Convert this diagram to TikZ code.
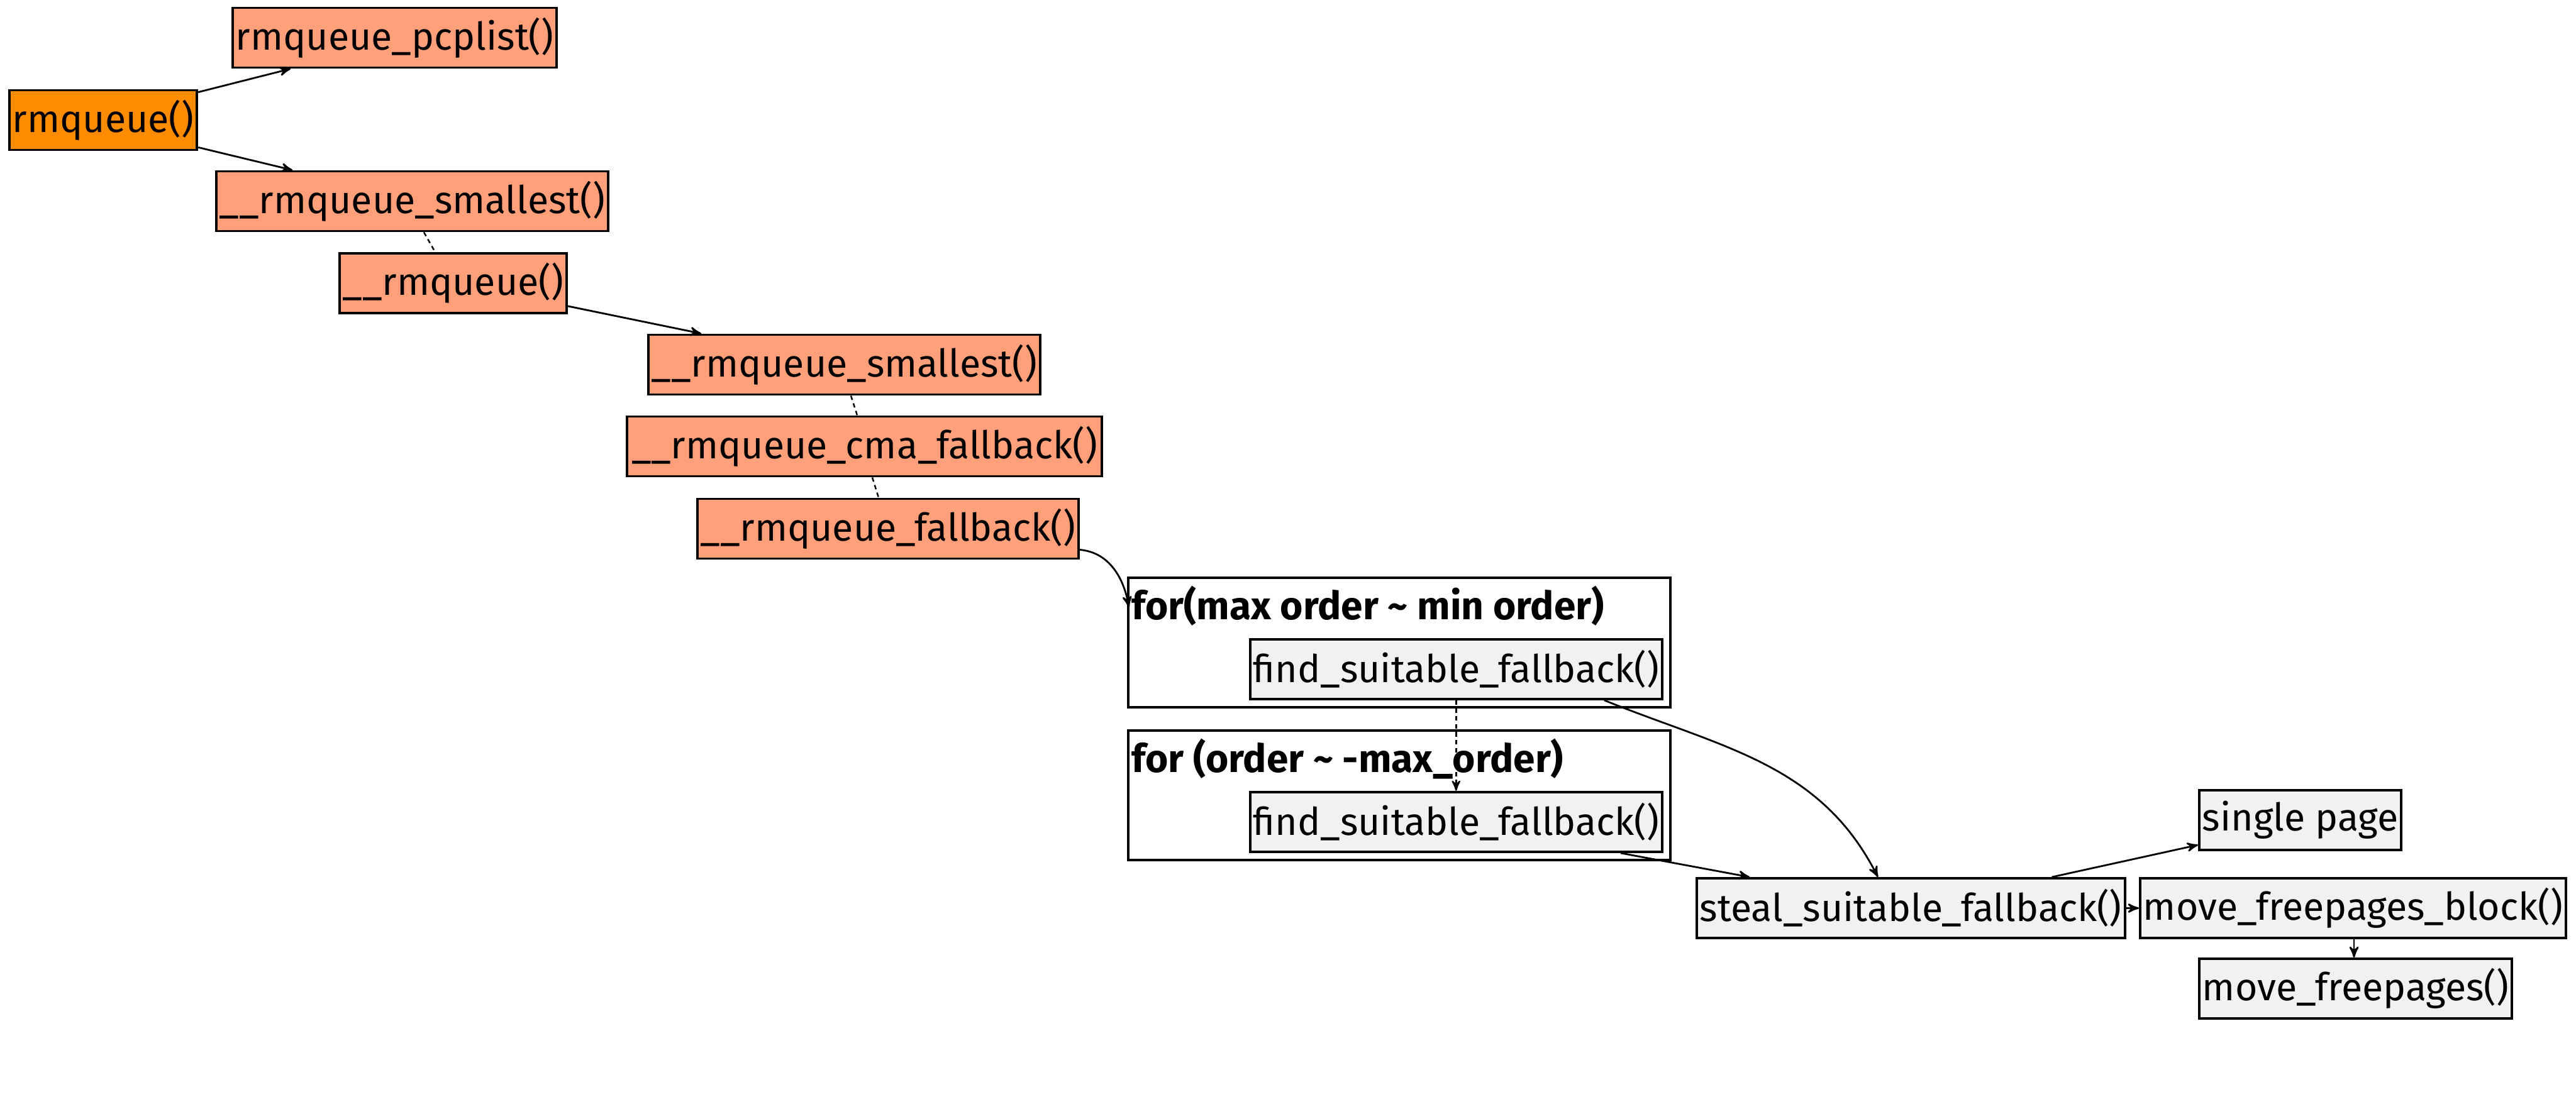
\documentclass[tikz,border=0pt]{standalone}
\usepackage{fontspec}
\setmainfont{Fira Sans}
\usetikzlibrary{arrows,positioning,calc}
\definecolor{rootorange}{HTML}{FF8C00}
\definecolor{fnsalmon}{HTML}{FFA07A}
\definecolor{callgrey}{HTML}{F1F1F1}

\begin{document}
\begin{tikzpicture}[>=stealth',
    fn/.style={draw,line width=1.1pt,fill=fnsalmon,anchor=west,inner xsep=0.05cm,
               minimum height=0.95cm,font=\fontsize{17.3}{20}\selectfont},
    root/.style={fn,fill=rootorange},
    sub/.style={fn,fill=callgrey},
    loopbox/.style={draw,line width=1.1pt,fill=white,anchor=north west,
               minimum width=8.62cm,minimum height=2.06cm},
    looptitle/.style={anchor=base west,inner sep=0pt,
               font=\fontsize{17.7}{20}\selectfont\bfseries},
    call/.style={->,line width=0.8pt},
    same/.style={line width=0.7pt,dash pattern=on 2pt off 1.6pt}]
            \useasboundingbox (0,0) rectangle (40.96,-17.64);
            % call chain
            \node[root] (rmqueue)   at (0.13,-1.91)  {rmqueue()};
            \node[fn]   (pcplist)   at (3.68,-0.60)  {rmqueue\_pcplist()};
            \node[fn]   (smallest)  at (3.42,-3.20)  {\_\_rmqueue\_smallest()};
            \node[fn]   (rmq)       at (5.38,-4.505) {\_\_rmqueue()};
            \node[fn]   (smallestb) at (10.29,-5.80) {\_\_rmqueue\_smallest()};
            \node[fn,minimum width=7.55cm] (cma) at (9.95,-7.10) {\_\_rmqueue\_cma\_fallback()};
            \node[fn]   (fallback)  at (11.07,-8.41) {\_\_rmqueue\_fallback()};
            % loops
            \node[loopbox] (maxloop) at (17.92,-9.17) {};
            \node[looptitle] (maxtitle) at ($(maxloop.north west)+(0.07,-0.68)$)
                  {for(max order \textasciitilde{} min order)};
            \node[sub,anchor=south east] (findmax)
                  at ($(maxloop.south east)+(-0.13,0.13)$) {find\_suitable\_fallback()};
            \node[loopbox] (ordloop) at (17.92,-11.60) {};
            \node[looptitle] (ordtitle) at ($(ordloop.north west)+(0.07,-0.68)$)
                  {for (order \textasciitilde{} -max\_order)};
            \node[sub,anchor=south east] (findord)
                  at ($(ordloop.south east)+(-0.13,0.13)$) {find\_suitable\_fallback()};
            % steal
            \node[sub] (steal)  at (26.96,-14.445) {steal\_suitable\_fallback()};
            \node[sub] (single) at (34.95,-13.045) {single page};
            \node[sub] (mfb)    at (34.01,-14.445) {move\_freepages\_block()};
            \node[sub] (mf)     at (34.95,-15.725) {move\_freepages()};
            % draw calls
            \draw[call] ($(rmqueue.north east)+(0,-0.05)$) -- ($(pcplist.south west)+(0.94,0)$);
            \draw[call] ($(rmqueue.south east)+(0,0.06)$) -- ($(smallest.north west)+(1.23,0)$);
            \draw[same] ($(smallest.south west)+(3.32,0)$) -- ($(rmq.north west)+(1.54,0)$);
            \draw[call] ($(rmq.south east)+(0,0.13)$) -- ($(smallestb.north west)+(0.86,0)$);
            \draw[same] ($(smallestb.south west)+(3.24,0)$) -- ($(cma.north west)+(3.68,0)$);
            \draw[same] ($(cma.south west)+(3.92,0)$) -- ($(fallback.north west)+(2.90,0)$);
            \draw[call] ($(fallback.south east)+(0,0.16)$) to[out=-5,in=100]
                  ($(maxloop.north west)+(0.03,-0.49)$);
            \draw[call,same] (findmax.south) -- (findord.north);
            \draw[call] ($(findmax.south east)+(-0.94,0)$) to[out=-22,in=117]
                  ($(steal.north west)+(2.90,0)$);
            \draw[call] ($(findord.south east)+(-0.68,0)$) -- ($(steal.north west)+(0.86,0)$);
            \draw[call] ($(steal.north east)+(-1.18,0)$) -- ($(single.south west)+(0,0.10)$);
            \draw[call] (steal.east) -- (mfb.west);
            \draw[call] ($(mfb.south west)+(3.42,0)$) -- ($(mf.north west)+(2.48,0)$);
\end{tikzpicture}
\end{document}
